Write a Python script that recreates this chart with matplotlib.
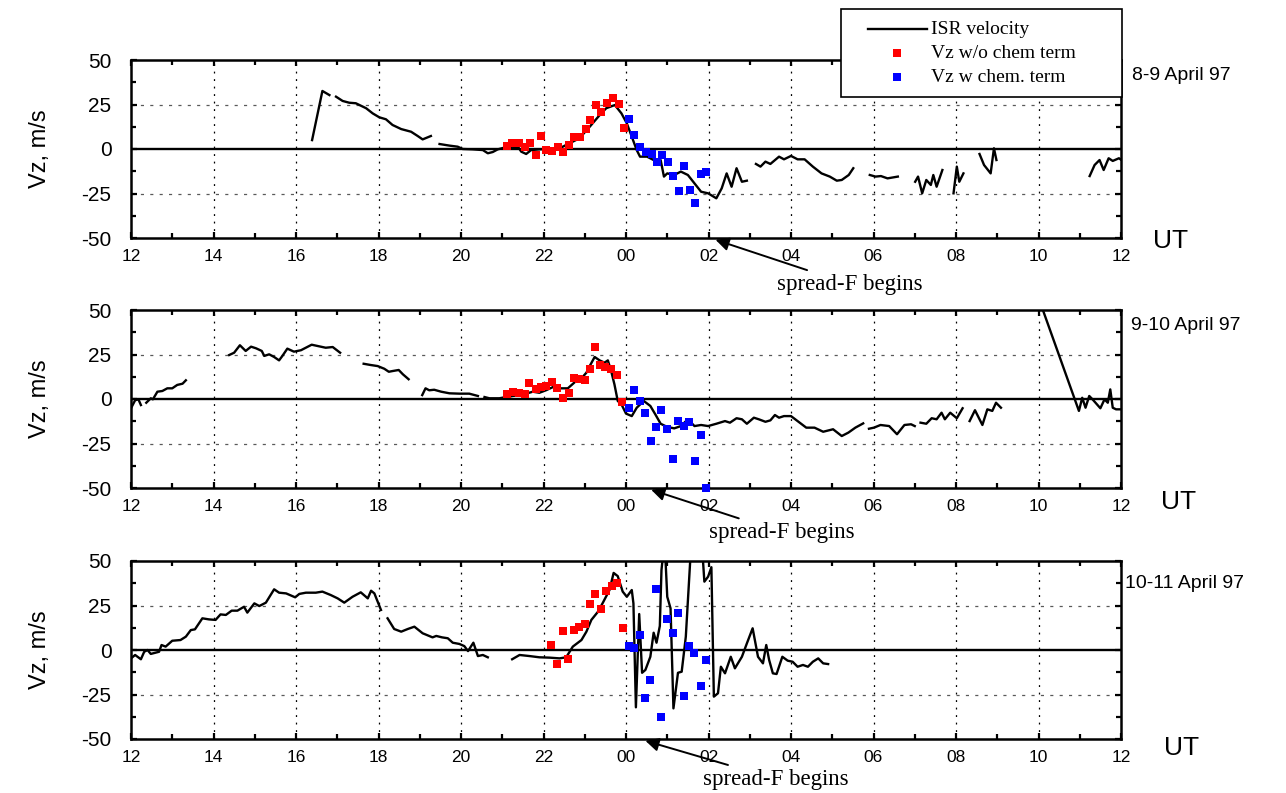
import numpy as np
import matplotlib
matplotlib.use("Agg")
import matplotlib.pyplot as plt
from matplotlib.lines import Line2D
from matplotlib.patches import Rectangle

plt.rcParams['font.family'] = ['Liberation Sans', 'DejaVu Sans']

nan = np.nan

# hours UT counted from 12 on the first day (24 = 00, 36 = 12 next day); nan = gap in ISR record
# --- 8-9 April 97 ---
t1 = [16.39, 16.64, 16.81, nan,
      16.97, 17.13, 17.29, 17.45, 17.70, 17.86, 18.02, 18.18, 18.34, 18.55, 18.79, 18.95, 19.07, 19.27, nan,
      19.48, 19.72, 19.92, 20.04, 20.28, 20.53, 20.65, 20.77, 20.89, 21.09, 21.25, 21.38, 21.46, 21.58, 21.70,
      21.90, 22.15, 22.39, 22.63, 22.87, 23.12, 23.36, 23.52, 23.73, 23.89, 24.02, 24.14, 24.26, 24.34, 24.51,
      24.67, 24.84, 24.92, 25.00, 25.17, 25.33, 25.50, 25.66, 25.82, 25.99, 26.19, 26.32, 26.44, 26.56, 26.68,
      26.81, 26.93, nan,
      27.15, 27.26, 27.38, 27.50, 27.71, 27.83, 28.00, 28.16, 28.33, 28.53, 28.74, 28.94, 29.11, 29.23, 29.40, 29.51, nan,
      29.91, 30.05, 30.18, 30.34, 30.59, nan,
      31.01, 31.08, 31.18, 31.28, 31.39, 31.45, 31.53, 31.67, nan,
      31.94, 32.02, 32.08, 32.18, nan,
      32.57, 32.68, 32.84, 32.92, 32.98, nan,
      35.24, 35.36, 35.48, 35.58, 35.70, 35.80, 35.95, 36.0]
v1 = [5.0, 32.6, 30.3, nan,
      29.4, 27.0, 26.0, 25.7, 22.9, 20.0, 17.8, 16.7, 13.5, 11.2, 9.7, 7.3, 5.4, 7.3, nan,
      2.8, 1.9, 1.3, 0.0, -0.2, -0.6, -2.4, -1.7, -0.2, 1.0, 0.4, 1.3, -1.5, -2.8, -0.6,
      -0.2, 0.0, 0.4, 3.2, 6.0, 12.5, 19.0, 22.9, 24.7, 20.0, 14.4, 6.9, -0.6, -4.3, -4.3,
      -6.2, -6.2, -15.5, -13.7, -14.6, -12.7, -14.6, -19.3, -24.0, -24.9, -27.7, -22.1, -13.7, -21.2, -10.8,
      -18.4, -17.8, nan,
      -8.4, -9.9, -7.1, -8.4, -4.3, -5.8, -3.9, -5.8, -5.8, -9.9, -13.7, -15.5, -17.8, -17.4, -14.6, -10.8, nan,
      -14.6, -15.5, -15.2, -16.5, -15.5, nan,
      -18.4, -15.5, -24.9, -17.4, -20.2, -14.6, -21.2, -11.8, nan,
      -24.9, -9.9, -18.4, -13.7, nan,
      -2.8, -9.0, -13.7, 0.4, -6.2, nan,
      -15.2, -9.0, -6.2, -11.8, -5.2, -6.7, -5.2, -6.0]
red_t1 = [21.11, 21.24, 21.40, 21.54, 21.68, 21.81, 21.94, 22.06, 22.21, 22.35, 22.47, 22.61, 22.75,
          22.89, 23.02, 23.13, 23.28, 23.40, 23.54, 23.68, 23.82, 23.95]
red_v1 = [1.7, 3.6, 3.2, 1.0, 3.2, -3.4, 7.3, -0.6, -0.9, 1.0, -1.5, 2.2, 6.6,
          6.6, 11.1, 16.3, 24.7, 20.6, 25.7, 28.5, 25.3, 11.6]
blue_t1 = [24.08, 24.20, 24.34, 24.49, 24.63, 24.76, 24.88, 25.02, 25.15, 25.28, 25.41, 25.54, 25.68, 25.81, 25.95]
blue_v1 = [16.9, 8.0, 1.0, -1.5, -3.0, -7.5, -3.4, -7.5, -15.2, -23.6, -9.6, -23.2, -30.2, -14.0, -12.9]

# --- 9-10 April 97 ---
t2 = [12.0, 12.10, 12.18, 12.24, nan,
      12.37, 12.48, 12.53, 12.64, 12.76, 12.88, 13.00, 13.12, 13.25, 13.33, nan,
      14.38, 14.50, 14.64, 14.78, 14.91, 15.03, 15.17, 15.23, 15.35, 15.47, 15.59, 15.67, 15.79, 15.95, 16.12,
      16.24, 16.38, 16.52, 16.72, 16.89, 17.07, nan,
      17.64, 17.81, 17.98, 18.14, 18.25, 18.34, 18.49, 18.59, 18.73, nan,
      19.06, 19.14, 19.23, 19.35, 19.52, 19.72, 19.96, 20.20, 20.41, nan,
      20.57, 20.69, 20.93, 21.09, 21.25, 21.42, 21.58, 21.74, 21.90, 22.06, 22.23, 22.39, 22.59, 22.79, 22.92,
      23.04, 23.12, 23.24, 23.36, 23.48, 23.56, 23.64, 23.72, 23.80, 23.89, 24.0, 24.14, 24.26, 24.43, 24.59,
      24.71, 24.84, 25.0, 25.17, 25.33, 25.50, 25.66, 25.82, 25.99, 26.19, 26.40, 26.52, 26.68, 26.81, 26.93,
      27.10, 27.22, 27.38, 27.50, 27.61, 27.71, 27.83, 28.0, 28.16, 28.37, 28.57, 28.78, 29.02, 29.23, 29.39,
      29.56, 29.75, nan,
      29.89, 30.01, 30.17, 30.38, 30.57, 30.75, 30.91, 31.0, nan,
      31.14, 31.28, 31.41, 31.53, 31.65, 31.73, 31.86, 32.02, 32.16, nan,
      32.33, 32.46, 32.64, 32.76, 32.88, 32.97, 33.09, nan,
      34.06, 34.98, 35.06, 35.14, 35.23, 35.31, 35.50, 35.60, 35.68, 35.74, 35.80, 35.88, 36.0]
v2 = [-5.2, -0.7, -0.2, -3.4, nan,
      -2.1, 0.4, -0.2, 4.1, 4.5, 6.0, 6.0, 7.9, 8.6, 10.5, nan,
      24.7, 26.0, 30.2, 27.0, 29.4, 28.5, 27.0, 24.2, 25.1, 23.6, 21.7, 24.2, 28.3, 26.6, 27.4,
      28.8, 30.5, 29.8, 28.8, 29.2, 26.0, nan,
      19.8, 19.1, 18.5, 17.0, 15.3, 15.7, 16.3, 13.9, 11.1, nan,
      2.2, 6.0, 4.9, 5.2, 4.1, 3.2, 3.0, 3.0, 1.7, nan,
      1.1, 0.4, 0.4, 1.1, 1.7, 2.2, 3.0, 4.1, 3.5, 4.9, 6.7, 6.0, 6.0, 10.1, 11.6,
      14.8, 18.5, 23.6, 21.7, 20.4, 21.7, 15.7, 8.2, -1.1, -3.0, -8.2, -9.6, -4.9, -1.1, -3.9,
      -8.6, -13.9, -15.7, -16.5, -15.2, -11.4, -15.2, -14.6, -15.2, -13.9, -12.4, -13.3, -10.8, -11.4, -13.9,
      -10.5, -11.4, -12.8, -12.0, -9.0, -10.5, -9.6, -9.6, -12.4, -16.1, -16.1, -18.4, -17.0, -20.8, -18.9,
      -16.1, -13.7, nan,
      -16.7, -16.1, -14.6, -15.2, -19.8, -14.6, -14.2, -15.2, nan,
      -13.3, -13.9, -10.8, -11.4, -7.7, -11.4, -7.7, -10.8, -5.2, nan,
      -12.4, -6.3, -14.6, -5.8, -6.7, -2.1, -4.9, nan,
      53.0, -6.7, 0.7, -4.9, 1.7, -0.2, -5.2, -0.2, -2.1, 5.4, -4.9, -5.8, -5.8]
red_t2 = [21.11, 21.25, 21.40, 21.54, 21.66, 21.81, 21.94, 22.06, 22.20, 22.33, 22.47, 22.61, 22.73,
          22.87, 23.01, 23.13, 23.26, 23.37, 23.50, 23.64, 23.78, 23.90]
red_v2 = [2.6, 4.1, 3.5, 2.6, 8.8, 5.8, 6.7, 7.3, 9.7, 6.0, 0.7, 3.5, 11.6,
          11.1, 10.7, 16.7, 29.4, 18.9, 18.0, 16.7, 13.5, -1.7]
blue_t2 = [24.08, 24.20, 24.33, 24.47, 24.61, 24.73, 24.85, 24.99, 25.13, 25.26, 25.40, 25.53, 25.67, 25.81, 25.95]
blue_v2 = [-5.2, 4.9, -1.1, -8.1, -23.6, -15.5, -6.2, -17.1, -33.7, -12.4, -15.2, -12.9, -34.8, -20.2, -49.8]

# --- 10-11 April 97 ---
t3 = [12.0, 12.10, 12.24, 12.32, 12.40, 12.48, 12.60, 12.68, 12.74, 12.84, 13.00, 13.20, 13.33, 13.45, 13.55,
      13.73, 13.89, 14.05, 14.17, 14.30, 14.44, 14.58, 14.74, 14.82, 14.99, 15.11, 15.27, 15.47, 15.59, 15.76,
      15.98, 16.08, 16.24, 16.48, 16.64, 16.84, 17.01, 17.17, 17.37, 17.57, 17.74, 17.82, 17.90, 18.06, nan,
      18.22, 18.38, 18.55, 18.71, 18.87, 19.07, 19.23, 19.31, 19.40, 19.54, 19.68, 19.80, 19.96, 20.08, 20.17,
      20.30, 20.41, 20.53, 20.65, nan,
      21.24, 21.42, 21.66, 21.90, 22.15, 22.39, 22.55, 22.71, 22.92, 23.04, 23.16, 23.32, 23.44, 23.60, 23.70,
      23.80, 23.92, 24.02, 24.14, 24.18, 24.24, 24.32, 24.39, 24.47, 24.59, 24.67, 24.74, 24.82, 24.86, 24.91,
      24.96, 25.0, 25.08, 25.15, 25.26, 25.35, 25.45, 25.56, 25.72, 25.86, 25.90, 25.99, 26.07, 26.13, 26.23,
      26.30, 26.40, 26.54, 26.64, 26.81, 26.93, 27.07, 27.20, 27.32, 27.40, 27.47, 27.56, 27.65, 27.79, 27.92,
      28.04, 28.16, 28.29, 28.41, 28.53, 28.66, 28.78, 28.90]
v3 = [-4.7, -2.8, -5.2, -1.0, 0.0, -2.2, -1.5, -1.0, 2.8, 1.9, 5.2, 5.6, 7.5, 11.2, 11.6,
      17.8, 17.2, 16.9, 20.0, 19.7, 22.1, 22.1, 24.3, 21.0, 26.2, 24.7, 26.6, 34.1, 32.2, 31.8,
      29.6, 31.5, 32.2, 32.2, 32.8, 30.9, 29.0, 26.6, 29.9, 32.4, 29.0, 33.3, 31.8, 22.5, nan,
      17.8, 11.8, 10.3, 11.8, 13.1, 9.4, 7.9, 7.1, 7.9, 7.1, 6.6, 4.1, 3.4, 2.2, -0.6,
      4.1, -3.4, -2.8, -4.1, nan,
      -5.2, -2.8, -3.4, -4.1, -4.3, -4.7, -4.1, 1.9, 5.6, 10.3, 16.9, 21.5, 26.6, 33.7, 43.3,
      41.5, 32.8, 29.9, 33.7, 26.2, -32.2, 20.2, -12.8, -11.2, -3.8, 9.7, 4.1, 13.5, 44.9, 56.0,
      49.6, 29.9, 23.4, -32.8, -12.8, -12.2, 7.5, 51.5, 62.0, 52.4, 38.4, 41.2, 46.5, -26.2, -24.3,
      -9.4, -13.1, -3.8, -10.3, -3.8, 3.7, 12.2, -3.8, -7.5, 2.8, -5.6, -13.1, -13.5, -3.8, -6.0,
      -6.6, -9.4, -8.4, -9.4, -6.6, -4.7, -7.5, -7.9]
red_t3 = [22.19, 22.33, 22.47, 22.59, 22.73, 22.86, 23.00, 23.12, 23.26, 23.39, 23.52, 23.66, 23.79, 23.92]
red_v3 = [2.8, -7.9, 10.8, -5.2, 11.2, 12.7, 14.6, 25.8, 31.5, 22.9, 33.3, 36.0, 37.8, 12.2]
blue_t3 = [24.08, 24.20, 24.33, 24.47, 24.59, 24.73, 24.85, 24.99, 25.13, 25.26, 25.40, 25.53, 25.66, 25.81, 25.95]
blue_v3 = [2.2, 0.9, 8.4, -27.1, -16.9, 34.3, -37.5, 17.4, 9.4, 20.6, -25.8, 2.4, -1.5, -20.1, -5.6]

day_labels = ['8-9 April 97', '9-10 April 97', '10-11 April 97']
xtick_hours = list(range(12, 37, 2))
xtick_labels = [f"{h % 24:02d}" for h in xtick_hours]
ytick_vals = [-50, -25, 0, 25, 50]
# spread-F onset arrow: (tip hour, text hour, text level)
spreadF = [(26.17, 27.66, -76.0), (24.61, 26.02, -75.0), (24.47, 25.87, -72.5)]

W, H = 1286, 793
fig = plt.figure(figsize=(W / 100, H / 100), dpi=100)

def fx(px):
    return px / W

def fy(py):
    return 1 - py / H

panels = [(t1, v1, red_t1, red_v1, blue_t1, blue_v1),
          (t2, v2, red_t2, red_v2, blue_t2, blue_v2),
          (t3, v3, red_t3, red_v3, blue_t3, blue_v3)]
tops = [60, 310, 561]
date_pos = [(1132, 75), (1131, 325), (1125, 583)]
ut_pos = [(1171, 241), (1179, 502), (1182, 748)]
serif = ['Liberation Serif', 'DejaVu Serif']

for i, (t, v, rt, rv, bt, bv) in enumerate(panels):
    top = tops[i]
    ax = fig.add_axes([fx(131), fy(top + 178), fx(990), 178 / H])
    ax.set_xlim(12, 36)
    ax.set_ylim(-50, 50)

    # grid and zero line
    for h in xtick_hours[1:-1]:
        ax.axvline(h, color='k', lw=0.9, linestyle=(0, (1.5, 4.5)), zorder=1)
    for y in (-25, 25):
        ax.axhline(y, color='0.35', lw=0.9, linestyle=(0, (2.5, 5)), zorder=1)
    ax.axhline(0, color='k', lw=1.7, zorder=2)

    ax.plot(t, v, color='k', lw=1.7, zorder=3, solid_joinstyle='round')
    ax.plot(rt, rv, 's', color='#ff0000', ms=6, mew=0, zorder=4)
    ax.plot(bt, bv, 's', color='#0000ff', ms=6, mew=0, zorder=4, clip_on=False)

    ax.set_xticks(xtick_hours)
    ax.set_xticklabels(xtick_labels, fontsize=12.5)
    ax.set_xticks(range(12, 37), minor=True)
    ax.set_yticks(ytick_vals)
    ax.set_yticklabels([str(y) for y in ytick_vals], fontsize=15)
    ax.set_yticks([-37.5, -12.5, 12.5, 37.5], minor=True)
    ax.tick_params(which='both', direction='in', top=True, right=True, width=1.6)
    ax.tick_params(which='major', length=4.5)
    ax.tick_params(which='minor', length=3.5)
    ax.tick_params(axis='x', which='major', pad=8)
    ax.tick_params(axis='y', which='major', pad=14)
    for s in ax.spines.values():
        s.set_linewidth(1.8)

    tip, tx, ty = spreadF[i]
    ax.annotate('spread-F begins', xy=(tip, -51), xytext=(tx, ty), textcoords='data',
                ha='left', va='center', fontsize=16.5, family=serif,
                annotation_clip=False,
                arrowprops=dict(arrowstyle='-|>', color='k', lw=1.4, mutation_scale=20,
                                shrinkA=2, shrinkB=0))

    fig.text(fx(40), fy(top + 89), 'Vz, m/s', rotation=90, ha='center', va='center', fontsize=17)
    dx, dy = date_pos[i]
    fig.text(fx(dx), fy(dy), day_labels[i], ha='left', va='center', fontsize=14)
    ux, uy = ut_pos[i]
    fig.text(fx(ux), fy(uy), 'UT', ha='center', va='center', fontsize=19)

# legend box
fig.add_artist(Rectangle((fx(841), fy(97)), 281 / W, 88 / H, transform=fig.transFigure,
                         facecolor='white', edgecolor='k', lw=1.2, zorder=10))
fig.add_artist(Line2D([fx(868), fx(927)], [fy(29), fy(29)], color='k', lw=1.7,
                      transform=fig.transFigure, zorder=11))
fig.add_artist(Line2D([fx(897)], [fy(53)], marker='s', color='#ff0000', ms=6, mew=0,
                      transform=fig.transFigure, zorder=11))
fig.add_artist(Line2D([fx(897)], [fy(77)], marker='s', color='#0000ff', ms=6, mew=0,
                      transform=fig.transFigure, zorder=11))
for py, txt in [(29, 'ISR velocity'), (53, 'Vz w/o chem term'), (77, 'Vz w chem. term')]:
    fig.text(fx(931), fy(py), txt, ha='left', va='center', fontsize=14, family=serif, zorder=12)

fig.savefig('out.png', dpi=100)
